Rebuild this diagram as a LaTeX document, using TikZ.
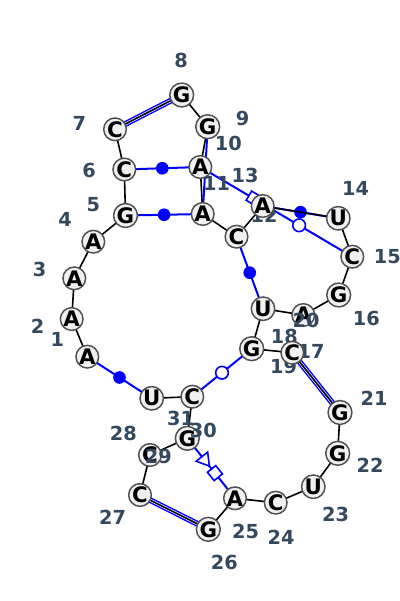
\documentclass[tikz,border=0pt]{standalone}
\usepackage{fontspec}
\setsansfont{DejaVu Sans}
\definecolor{ntfill}{RGB}{240,240,240}
\definecolor{ntdraw}{RGB}{80,80,80}
\definecolor{numcol}{RGB}{52,73,94}
\tikzset{every picture/.style={/utils/exec={\sffamily\bfseries}}}
\usetikzlibrary{backgrounds,shapes.geometric}

\begin{document}
\begin{tikzpicture}[x=0.75pt,y=-0.75pt,
  base/.style={circle,draw=ntdraw,fill=ntfill,line width=1.1pt,minimum size=17pt,inner sep=0pt,font=\fontsize{16}{16}\selectfont},
  num/.style={text=numcol,inner sep=0pt,font=\fontsize{14.5}{14.5}\selectfont},
  bb/.style={black,line width=1.2pt},
  bp/.style={blue,line width=1.5pt},
  wc/.style={blue,line width=1.1pt,double=white,double distance=2.2pt},
  cis/.style={circle,fill=blue,inner sep=0pt,minimum size=9.5pt},
  trans/.style={circle,draw=blue,fill=white,line width=1.2pt,inner sep=0pt,minimum size=9.5pt},
  hoog/.style={rectangle,sloped,draw=blue,fill=white,line width=1.2pt,inner sep=0pt,minimum size=8pt},
  sugar/.style={isosceles triangle,isosceles triangle stretches,sloped,draw=blue,fill=white,line width=1.2pt,inner sep=0pt,minimum width=11pt,minimum height=9pt}]
  \useasboundingbox (0,0) rectangle (400,601);

  \foreach \x/\y/\s/\lx/\ly [count=\i] in {
    87.3/356.7/A/57.3/339.3, 71.7/319/A/37.5/326, 74.3/278.3/A/39.5/269.3,
    93.3/241.7/A/65/219, 125.5/215.5/G/93.3/205, 124.3/169.5/C/89/170.7,
    115/129.3/C/79.3/123.3, 181.7/95/G/181/60, 207.7/126.7/G/242.7/118.3,
    200.3/167/A/228.3/143.3, 202.7/214/A/216.7/183, 236.5/236.7/C/264/215,
    262.7/206/A/245/175.5, 338.3/218.3/U/355.7/188.3, 352.3/256.7/C/387.3/256.7,
    338.7/295/G/366.3/318.3, 303.3/315/A/311/351, 263/308.7/U/284.3/336.5,
    251.7/348.7/G/283.5/366, 292.3/352.7/C/306/320.3, 340/412.5/G/374/398.3,
    337.7/453.3/G/370/465, 313.3/486.7/U/335.7/514.3, 275.7/502.7/C/281/537.3,
    235/498.3/A/245.7/531.7, 208.3/529.3/G/224.3/562.3, 140/495/C/112.7/517.3,
    150/455/C/123.3/433.3, 187.3/438.3/G/158.3/456.7, 192.3/396.7/C/203.3/430.7,
    151.7/398.3/U/180.7/418.3} {
    \node[base] (n\i) at (\x,\y) {\s};
    \node[num] (l\i) at (\lx,\ly) {\i};
  }

  \begin{scope}[on background layer]
    \foreach \p/\q in {7/8,20/21,26/27}
      \draw[wc] (n\p.center) -- (n\q.center);
    \foreach \p/\q in {6/10,5/11,13/14,12/18,1/31}
      \draw[bp] (n\p.center) -- (n\q.center) node[midway,cis] {};
    \draw[bp] (n19.center) -- (n30.center) node[midway,trans] {};
    \draw[bp] (n9.center) -- (n11.center);
    \draw[bp] (n10.center) -- (n15.center) node[pos=0.35,hoog] {} node[pos=0.65,trans] {};
    \draw[bp] (n29.center) -- (n25.center) node[pos=0.36,sugar] {} node[pos=0.58,hoog] {};

    \foreach \i [evaluate=\i as \j using int(\i+1)] in {1,...,30}
      \draw[bb] (n\i.center) -- (n\j.center);
  \end{scope}
\end{tikzpicture}
\end{document}
